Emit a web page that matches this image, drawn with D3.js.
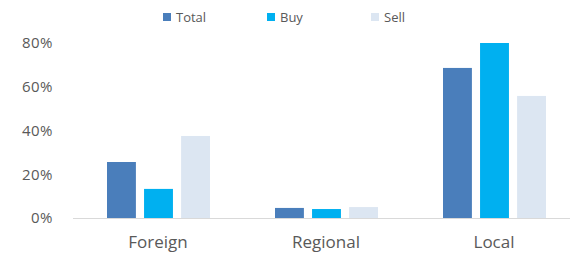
<html>
<head>
<style>
  body { margin: 0; background: #fff; }
  text { font-family: "Open Sans", sans-serif; }
</style>
</head>
<body>
<svg id="chart"></svg>
<script src="https://cdn.jsdelivr.net/npm/d3@7"></script>
<script>
// data
var categories = ['Foreign', 'Regional', 'Local']
var seriesNames = ['Total', 'Buy', 'Sell']
var total = [0.256, 0.046, 0.686]
var buy = [0.133, 0.041, 0.80]
var sell = [0.375, 0.05, 0.558]
var yTicks = [0, 0.2, 0.4, 0.6, 0.8]
var colors = ['#4a7ebb', '#00b0f0', '#dce6f2']

var width = 578, height = 261
var svg = d3.select('#chart').attr('width', width).attr('height', height)

var rows = categories.map(function(c, i) {
  return { cat: c, values: [total[i], buy[i], sell[i]] }
})

var x0 = d3.scaleBand().domain(categories).range([74, 578])
var x1 = d3.scaleBand().domain(seriesNames).range([33, 136]).paddingInner(0.22)
var y = d3.scaleLinear().domain([0, 0.8]).range([218, 43])

// y axis labels only, no line
var yAxis = d3.axisLeft(y).tickValues(yTicks).tickFormat(d3.format('.0%')).tickSize(0).tickPadding(0)
svg.append('g').attr('transform', 'translate(53,0)').call(yAxis)
  .call(function(g) { g.select('.domain').remove() })
  .selectAll('text')
  .attr('fill', '#595959').style('font-size', '15px')
  .style('font-family', '"Open Sans", sans-serif')
  .style('letter-spacing', '0.5px')

// bars
var groups = svg.selectAll('g.grp').data(rows).enter().append('g')
  .attr('class', 'grp')
  .attr('transform', function(d) { return 'translate(' + x0(d.cat) + ',0)' })

groups.selectAll('rect').data(function(d) {
    return d.values.map(function(v, j) { return { name: seriesNames[j], v: v, j: j } })
  })
  .enter().append('rect')
  .attr('x', function(d) { return x1(d.name) })
  .attr('width', x1.bandwidth())
  .attr('y', function(d) { return y(d.v) })
  .attr('height', function(d) { return y(0) - y(d.v) })
  .attr('fill', function(d) { return colors[d.j] })

// baseline + category labels
var xAxis = d3.axisBottom(x0).tickSize(0).tickPadding(18)
var gx = svg.append('g').attr('transform', 'translate(0,' + y(0) + ')').call(xAxis)
gx.select('.domain').attr('stroke', '#d9d9d9').attr('d', 'M73,0.5H570')
gx.selectAll('.tick text')
  .attr('fill', '#595959').style('font-size', '17px')
  .style('font-family', '"Open Sans", sans-serif')

// legend
var legend = svg.selectAll('g.leg').data(seriesNames).enter().append('g')
  .attr('class', 'leg')
  .attr('transform', function(d, i) { return 'translate(' + (163 + i * 104) + ',17)' })
legend.append('rect').attr('x', 0).attr('y', -4).attr('width', 8).attr('height', 8)
  .attr('fill', function(d, i) { return colors[i] })
legend.append('text').attr('x', 13).attr('y', 0).attr('dy', '0.35em')
  .attr('fill', '#595959').style('font-size', '13px')
  .text(function(d) { return d })
</script>
</body>
</html>
